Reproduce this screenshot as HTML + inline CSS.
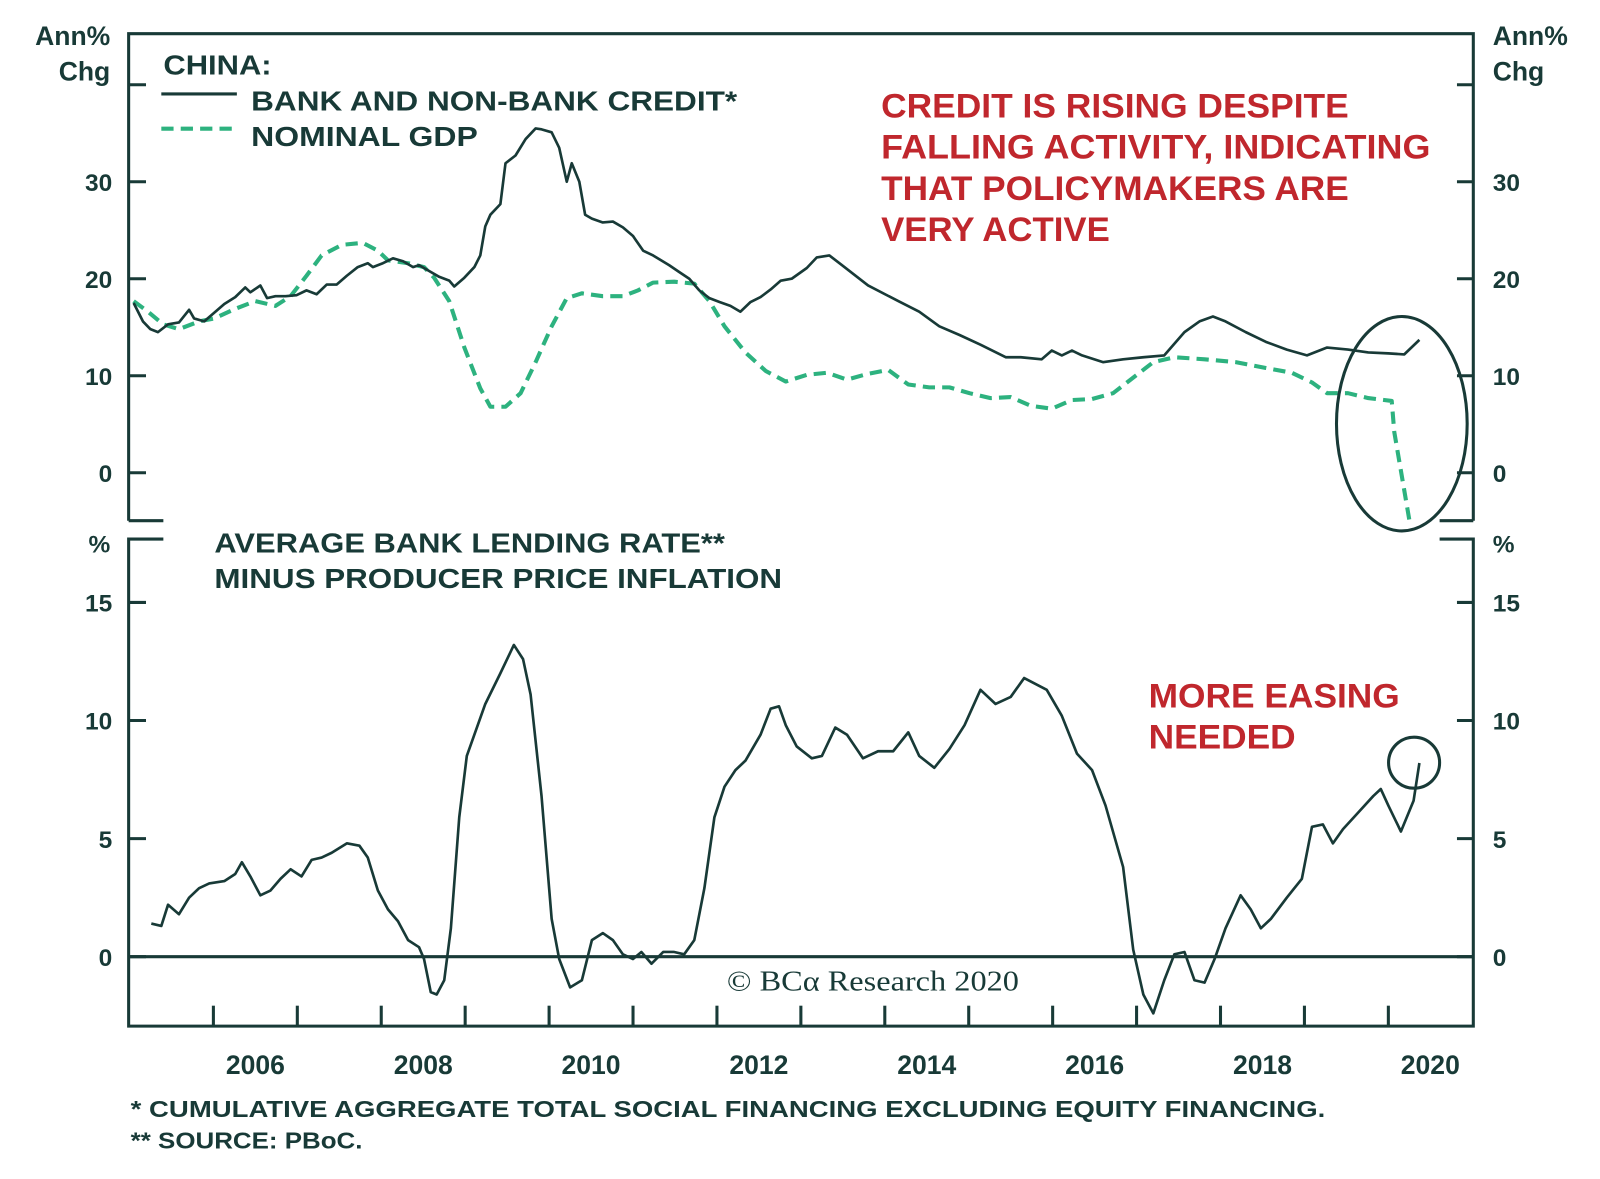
<!DOCTYPE html>
<html><head><meta charset="utf-8">
<style>
html,body{margin:0;padding:0;background:#fff;}
svg{display:block;}
text{font-family:"Liberation Sans",sans-serif;font-weight:bold;fill:#183a37;}
</style></head>
<body>
<svg id="chart" width="1600" height="1179" viewBox="0 0 1600 1179" xmlns="http://www.w3.org/2000/svg">
 <g transform="scale(1.021)">
  <g id="frame" stroke="#183a37" stroke-width="3" fill="none">
    <path d="M126,510 L126,33 L1443,33 L1443,510" />
    <line x1="126" y1="510" x2="160" y2="510"/>
    <line x1="1410" y1="510" x2="1443" y2="510"/>
    <path d="M160,528 L126,528 L126,1005 L1443,1005 L1443,528 L1410,528"/>
  </g>
  <g id="axes"></g>
  <g id="series"></g>

  <text x="108" y="44" font-size="26" text-anchor="end">Ann%</text>
  <text x="108" y="79" font-size="26" text-anchor="end">Chg</text>
  <text x="1462" y="44" font-size="26">Ann%</text>
  <text x="1462" y="79" font-size="26">Chg</text>
  <text x="108" y="541" font-size="24" text-anchor="end">%</text>
  <text x="1462" y="541" font-size="24">%</text>

  <text x="160" y="73" font-size="27" textLength="106" lengthAdjust="spacingAndGlyphs">CHINA:</text>
  <line x1="158" y1="92" x2="232" y2="92" stroke="#183a37" stroke-width="3"/>
  <text x="246" y="108" font-size="27" textLength="476" lengthAdjust="spacingAndGlyphs">BANK AND NON-BANK CREDIT*</text>
  <line x1="158" y1="126" x2="232" y2="126" stroke="#2db27f" stroke-width="4" stroke-dasharray="12,7"/>
  <text x="246" y="143" font-size="27" textLength="222" lengthAdjust="spacingAndGlyphs">NOMINAL GDP</text>

  <g font-size="34">
    <text x="863" y="115" style="fill:#c0272d" textLength="458" lengthAdjust="spacingAndGlyphs">CREDIT IS RISING DESPITE</text>
    <text x="863" y="155" style="fill:#c0272d" textLength="538" lengthAdjust="spacingAndGlyphs">FALLING ACTIVITY, INDICATING</text>
    <text x="863" y="196" style="fill:#c0272d" textLength="458" lengthAdjust="spacingAndGlyphs">THAT POLICYMAKERS ARE</text>
    <text x="863" y="236" style="fill:#c0272d" textLength="224" lengthAdjust="spacingAndGlyphs">VERY ACTIVE</text>
  </g>

  <text x="210" y="541" font-size="27" textLength="500" lengthAdjust="spacingAndGlyphs">AVERAGE BANK LENDING RATE**</text>
  <text x="210" y="576" font-size="27" textLength="556" lengthAdjust="spacingAndGlyphs">MINUS PRODUCER PRICE INFLATION</text>

  <g font-size="34">
    <text x="1125" y="693" style="fill:#c0272d" textLength="246" lengthAdjust="spacingAndGlyphs">MORE EASING</text>
    <text x="1125" y="733" style="fill:#c0272d" textLength="144" lengthAdjust="spacingAndGlyphs">NEEDED</text>
  </g>

  <text x="712" y="970" font-size="28" style="font-family:'Liberation Serif',serif;font-weight:normal" textLength="286" lengthAdjust="spacingAndGlyphs">© BCα Research 2020</text>

  <text x="128" y="1094" font-size="23" textLength="1170" lengthAdjust="spacingAndGlyphs">* CUMULATIVE AGGREGATE TOTAL SOCIAL FINANCING EXCLUDING EQUITY FINANCING.</text>
  <text x="128" y="1125" font-size="23" textLength="227" lengthAdjust="spacingAndGlyphs">** SOURCE: PBoC.</text>

  <ellipse cx="1373" cy="415" rx="64" ry="105" fill="none" stroke="#183a37" stroke-width="3"/>
  <circle cx="1385" cy="747" r="25" fill="none" stroke="#183a37" stroke-width="3"/>
 </g>
</svg>
<script>
const creditYears=[2005.05,2005.16,2005.25,2005.34,2005.46,2005.59,2005.71,2005.77,2005.89,2006.01,2006.13,2006.26,2006.38,2006.44,2006.56,2006.64,2006.74,2006.86,2006.99,2007.11,2007.23,2007.35,2007.47,2007.59,2007.72,2007.84,2007.90,2008.02,2008.14,2008.26,2008.38,2008.45,2008.57,2008.69,2008.81,2008.87,2008.99,2009.11,2009.18,2009.24,2009.30,2009.42,2009.48,2009.60,2009.72,2009.84,2009.91,2010.03,2010.12,2010.21,2010.27,2010.36,2010.43,2010.51,2010.64,2010.76,2010.88,2011.00,2011.12,2011.24,2011.43,2011.55,2011.67,2011.79,2011.91,2012.03,2012.16,2012.28,2012.40,2012.52,2012.64,2012.76,2012.89,2013.07,2013.19,2013.34,2013.49,2013.80,2014.16,2014.41,2014.65,2014.89,2015.14,2015.44,2015.62,2015.87,2015.99,2016.11,2016.23,2016.35,2016.60,2016.84,2017.08,2017.33,2017.57,2017.75,2017.91,2018.06,2018.30,2018.54,2018.79,2019.03,2019.27,2019.52,2019.76,2020.00,2020.19,2020.37];
const creditValues=[17.5,15.6,14.8,14.5,15.3,15.5,16.8,15.9,15.6,16.5,17.4,18.1,19.1,18.6,19.3,18.0,18.2,18.2,18.3,18.8,18.4,19.4,19.4,20.3,21.2,21.6,21.2,21.6,22.1,21.8,21.2,21.4,20.8,20.2,19.8,19.2,20.1,21.2,22.4,25.4,26.6,27.7,31.9,32.7,34.4,35.5,35.4,35.1,33.5,30.0,31.9,30.0,26.6,26.2,25.8,25.9,25.3,24.4,22.9,22.4,21.4,20.7,20.0,18.8,18.0,17.6,17.2,16.6,17.6,18.1,18.9,19.8,20.0,21.1,22.2,22.4,21.4,19.3,17.7,16.6,15.1,14.2,13.2,11.9,11.9,11.7,12.6,12.1,12.6,12.1,11.4,11.7,11.9,12.1,14.5,15.6,16.1,15.6,14.5,13.5,12.7,12.1,12.9,12.7,12.4,12.3,12.2,13.7];
const gdpYears=[2005.05,2005.22,2005.40,2005.59,2005.83,2006.01,2006.26,2006.50,2006.74,2006.92,2007.11,2007.29,2007.53,2007.78,2007.96,2008.08,2008.32,2008.51,2008.63,2008.81,2008.99,2009.18,2009.30,2009.48,2009.66,2009.84,2010.03,2010.21,2010.39,2010.64,2010.88,2011.06,2011.24,2011.49,2011.73,2011.91,2012.09,2012.34,2012.58,2012.82,2013.07,2013.31,2013.55,2013.80,2014.04,2014.28,2014.53,2014.77,2015.01,2015.26,2015.50,2015.74,2015.99,2016.23,2016.47,2016.72,2016.96,2017.20,2017.45,2017.81,2018.18,2018.54,2018.85,2019.09,2019.27,2019.52,2019.76,2020.04,2020.07,2020.25];
const gdpValues=[17.7,16.6,15.3,14.8,15.6,15.9,16.9,17.7,17.2,18.2,20.3,22.4,23.5,23.7,22.9,21.9,21.6,21.2,20.1,17.7,12.9,8.7,6.8,6.8,8.2,11.4,15.1,18.0,18.5,18.2,18.2,18.8,19.6,19.7,19.5,17.7,15.1,12.4,10.5,9.4,10.1,10.3,9.6,10.2,10.6,9.1,8.8,8.8,8.2,7.7,7.8,6.9,6.6,7.5,7.6,8.2,9.8,11.4,11.9,11.7,11.4,10.8,10.3,9.3,8.2,8.2,7.7,7.4,4.2,-4.9];
const rateYears=[2005.26,2005.38,2005.46,2005.59,2005.71,2005.83,2005.95,2006.13,2006.26,2006.34,2006.44,2006.56,2006.68,2006.80,2006.92,2007.05,2007.17,2007.29,2007.41,2007.59,2007.74,2007.84,2007.96,2008.08,2008.20,2008.32,2008.45,2008.51,2008.59,2008.66,2008.75,2008.83,2008.93,2009.02,2009.11,2009.24,2009.42,2009.58,2009.69,2009.78,2009.91,2010.03,2010.12,2010.25,2010.39,2010.51,2010.64,2010.76,2010.88,2011.00,2011.10,2011.22,2011.36,2011.49,2011.61,2011.73,2011.85,2011.97,2012.09,2012.22,2012.34,2012.52,2012.64,2012.74,2012.82,2012.95,2013.13,2013.25,2013.41,2013.55,2013.74,2013.92,2014.10,2014.28,2014.41,2014.59,2014.77,2014.95,2015.14,2015.32,2015.50,2015.66,2015.93,2016.11,2016.29,2016.47,2016.63,2016.84,2016.96,2017.08,2017.20,2017.33,2017.45,2017.57,2017.69,2017.81,2017.93,2018.06,2018.24,2018.36,2018.48,2018.60,2018.79,2018.97,2019.09,2019.22,2019.34,2019.46,2019.64,2019.82,2019.91,2020.00,2020.15,2020.30,2020.37];
const rateValues=[1.4,1.3,2.2,1.8,2.5,2.9,3.1,3.2,3.5,4.0,3.4,2.6,2.8,3.3,3.7,3.4,4.1,4.2,4.4,4.8,4.7,4.2,2.8,2.0,1.5,0.7,0.4,-0.1,-1.5,-1.6,-1.0,1.2,5.9,8.5,9.4,10.7,12.0,13.2,12.6,11.1,6.8,1.6,-0.1,-1.3,-1.0,0.7,1.0,0.7,0.1,-0.1,0.2,-0.3,0.2,0.2,0.1,0.7,2.9,5.9,7.2,7.9,8.3,9.4,10.5,10.6,9.8,8.9,8.4,8.5,9.7,9.4,8.4,8.7,8.7,9.5,8.5,8.0,8.8,9.8,11.3,10.7,11.0,11.8,11.3,10.2,8.6,7.9,6.4,3.8,0.3,-1.6,-2.4,-1.0,0.1,0.2,-1.0,-1.1,-0.1,1.2,2.6,2.0,1.2,1.6,2.5,3.3,5.5,5.6,4.8,5.4,6.1,6.8,7.1,6.4,5.3,6.6,8.2];
const yearLabels=["2006","2008","2010","2012","2014","2016","2018","2020"];
const topTicks=[0,10,20,30];
const bottomTicks=[0,5,10,15];

const NS="http://www.w3.org/2000/svg";
const xScale=t=>209+(t-2006)*82.2;
const yTop=v=>463-v*9.5;
const yBot=v=>937-v*23.13;
function mk(tag,attrs,parent){const e=document.createElementNS(NS,tag);for(const k in attrs)e.setAttribute(k,attrs[k]);parent.appendChild(e);return e;}
const axes=document.getElementById('axes');
const series=document.getElementById('series');
const dark="#183a37";

topTicks.concat([40]).forEach(v=>{
  const y=yTop(v);
  const l=mk('line',{x1:126,x2:143,y1:y,y2:y,stroke:dark,'stroke-width':3},axes);
  
  
  const r=mk('line',{x1:1427,x2:1443,y1:y,y2:y,stroke:dark,'stroke-width':3},axes);
  
  
});
topTicks.forEach(v=>{
  const y=yTop(v)+9;
  const a=mk('text',{x:110,y:y,'font-size':24,'text-anchor':'end'},axes);a.textContent=String(v);
  
  
  const b=mk('text',{x:1462,y:y,'font-size':24},axes);b.textContent=String(v);
  
  
});
bottomTicks.forEach(v=>{
  const y=yBot(v);
  const l=mk('line',{x1:126,x2:143,y1:y,y2:y,stroke:dark,'stroke-width':3},axes);
  
  
  const r=mk('line',{x1:1427,x2:1443,y1:y,y2:y,stroke:dark,'stroke-width':3},axes);
  
  
  const a=mk('text',{x:110,y:y+9,'font-size':24,'text-anchor':'end'},axes);a.textContent=String(v);
  
  
  const b=mk('text',{x:1462,y:y+9,'font-size':24},axes);b.textContent=String(v);
  
  
});
const zero=mk('line',{x1:126,x2:1443,y1:yBot(0),y2:yBot(0),stroke:dark,'stroke-width':3},axes);


for(let yr=2006;yr<=2020;yr++){
  const x=xScale(yr);
  const t=mk('line',{x1:x,x2:x,y1:985,y2:1005,stroke:dark,'stroke-width':3},axes);
  
  
}
yearLabels.forEach(s=>{
  const x=xScale(Number(s)+0.5);
  const t=mk('text',{x:x,y:1052,'font-size':26,'text-anchor':'middle'},axes);t.textContent=s;
  
  
});
function path(xs,vs,ys){return xs.map((t,i)=>(i?'L':'M')+xScale(t).toFixed(1)+','+ys(vs[i]).toFixed(1)).join(' ');}
const g=mk('path',{d:path(gdpYears,gdpValues,yTop),fill:'none',stroke:'#2db27f','stroke-width':4,'stroke-dasharray':'12,7','stroke-linejoin':'round'},series);


const c=mk('path',{d:path(creditYears,creditValues,yTop),fill:'none',stroke:dark,'stroke-width':2.6,'stroke-linejoin':'round'},series);


const r=mk('path',{d:path(rateYears,rateValues,yBot),fill:'none',stroke:dark,'stroke-width':2.6,'stroke-linejoin':'round'},series);


</script>
</body></html>
